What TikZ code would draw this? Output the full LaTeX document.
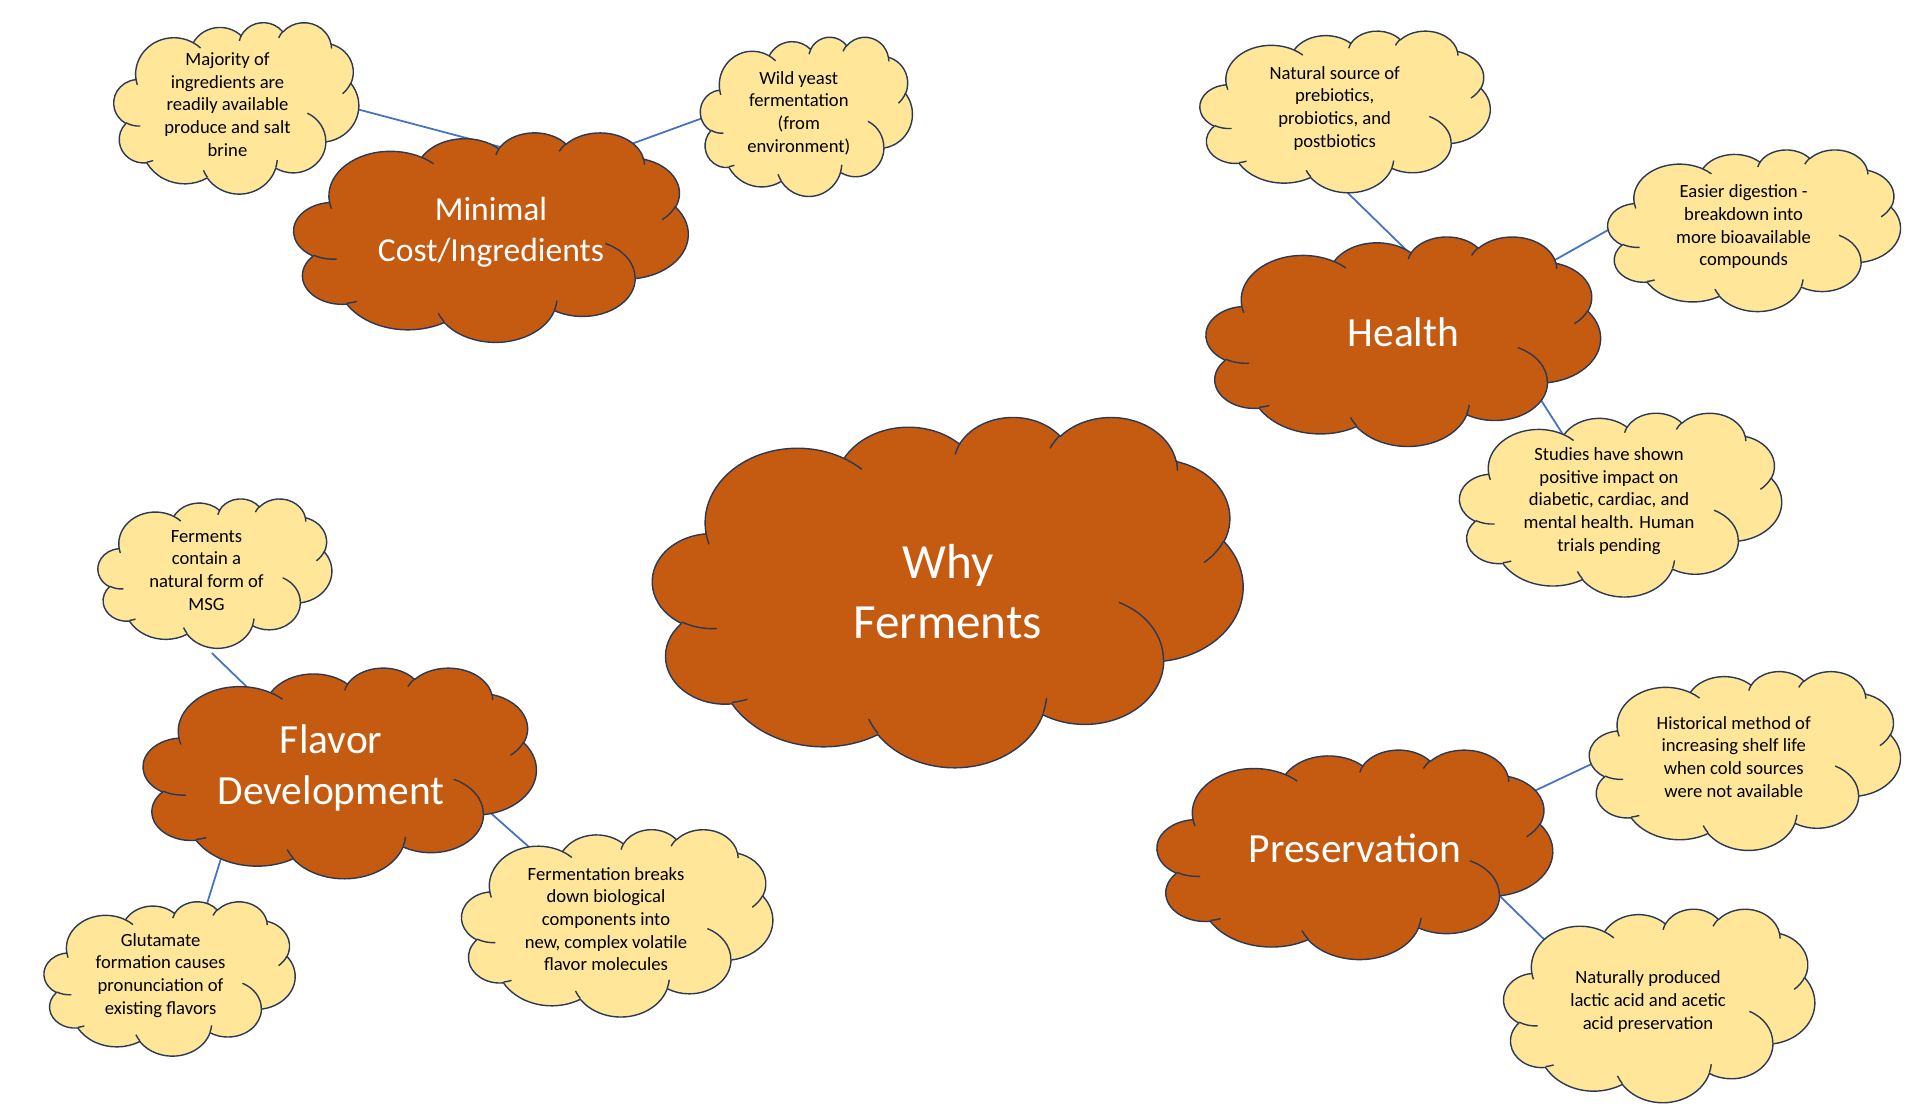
\documentclass[tikz,border=0pt]{standalone}
\usepackage{fontspec}
\setmainfont{Carlito}
\usepackage{tikz}

\definecolor{topicfill}{HTML}{C55A11}
\definecolor{detailfill}{HTML}{FFE699}
\definecolor{rimline}{HTML}{2B3954}
\definecolor{linkblue}{HTML}{4472C4}

\pgfdeclarelayer{background}
\pgfsetlayers{background,main}

% one arc of the cloud outline: name, x radius, y radius, start angle, sweep
\newcommand\rimarc[5]{%
  \pgfmathsetmacro\rimst{atan2(#2*sin(#4),#3*cos(#4))}%
  \pgfmathsetmacro\rimen{atan2(#2*sin(#4+#5),#3*cos(#4+#5))}%
  \pgfmathsetmacro\rimsw{mod(\rimen-\rimst+720,360)}%
  \expandafter\xdef\csname #1\endcsname{arc[start angle=\rimst, delta angle=\rimsw, x radius=#2, y radius=#3]}}

% outer puffs
\rimarc{rimA}{6.753}{9.190}{-190.487}{123.781}
\rimarc{rimB}{5.333}{7.267}{-144.102}{89.945}
\rimarc{rimC}{4.365}{5.945}{-145.808}{99.723}
\rimarc{rimD}{4.857}{6.595}{-130.986}{117.242}
\rimarc{rimE}{5.333}{7.273}{-78.709}{109.027}
\rimarc{rimF}{6.775}{9.220}{-46.267}{130.269}
\rimarc{rimG}{5.785}{7.867}{0.625}{114.033}
\rimarc{rimH}{6.752}{9.215}{22.452}{115.173}
\rimarc{rimI}{7.720}{10.543}{66.243}{75.711}
\rimarc{rimJ}{4.360}{5.918}{-274.942}{146.736}
\rimarc{rimK}{4.345}{5.945}{-246.829}{152.519}
% small inner strokes
\rimarc{dentA}{4.345}{5.945}{86.742}{26.430}
\rimarc{dentB}{4.360}{5.918}{73.611}{11.448}
\rimarc{dentC}{6.752}{9.215}{137.624}{14.081}
\rimarc{dentD}{6.752}{9.215}{6.453}{15.998}
\rimarc{dentE}{5.785}{7.867}{-70.292}{70.917}
\rimarc{dentF}{5.333}{7.273}{30.318}{27.752}
\rimarc{dentG}{4.857}{6.595}{-13.744}{14.859}
\rimarc{dentH}{4.857}{6.595}{-149.182}{18.195}
\rimarc{dentI}{4.365}{5.945}{-163.494}{17.686}
\rimarc{dentJ}{6.753}{9.190}{-66.707}{12.319}
\rimarc{dentK}{6.753}{9.190}{157.654}{11.858}

\tikzset{
  rim/.style={draw=rimline, line width=0.4pt, line join=round},
  link/.style={draw=linkblue, line width=0.5pt},
  topic/.style={font=\fontsize{11.8}{14.4}\selectfont, text=white, align=center, inner sep=0pt},
  detail/.style={font=\fontsize{5.3}{6.45}\selectfont, text=black, align=center, inner sep=0pt},
}

% options, kind (topic/detail), name, centre, width, height, text
\newcommand\cloudnode[7][]{%
  \begin{scope}[shift={#4}, xscale=#5/43.2, yscale=-#6/43.2]
    \filldraw[rim, fill=#2fill] (-17.7,-7.23) \rimA \rimB \rimC \rimD \rimE \rimF
      \rimG \rimH \rimI \rimJ \rimK -- cycle;
    \draw[rim] (-16.907,4.577) \dentA (-14.672,13.299) \dentB (-5.122,17.49) \dentC
      (7.227,13.151) \dentD (12.529,1.354) \dentE (20.198,-6.246) \dentF
      (16.724,-16.174) \dentG (7.478,-17.648) \dentH (0.541,-16.88) \dentI
      (-7.6,-16.408) \dentJ (-17.473,-5.811) \dentK;
  \end{scope}
  \node[#2, minimum width=#5cm, minimum height=#6cm, #1] (#3) at #4 {#7};
}

\begin{document}
\begin{tikzpicture}
  \useasboundingbox (0,0) rectangle (19.2,11.07);

  % Centre
  \cloudnode[font=\fontsize{14}{17}\selectfont]{topic}{why}{(9.478,5.156)}{5.902}{3.502}{Why\\Ferments}

  % Minimal cost
  \cloudnode[font=\fontsize{9.55}{11.7}\selectfont, yshift=0.05cm]{topic}{minimal}{(4.910,8.701)}{3.943}{2.094}{Minimal\\Cost/Ingredients}
  \cloudnode[xshift=-0.088cm, yshift=0.034cm]{detail}{majority}{(2.363,9.992)}{2.449}{1.714}{Majority of\\ingredients are\\readily available\\produce and salt\\brine}
  \cloudnode[xshift=-0.076cm, yshift=0.032cm]{detail}{wildyeast}{(8.064,9.907)}{2.119}{1.592}{Wild yeast\\fermentation\\(from\\environment)}

  % Health
  \cloudnode[yshift=0.085cm]{topic}{health}{(14.033,7.660)}{3.943}{2.094}{Health}
  \cloudnode[xshift=-0.104cm, yshift=0.032cm]{detail}{natural}{(13.451,9.956)}{2.902}{1.616}{Natural source of\\prebiotics,\\probiotics, and\\postbiotics}
  \cloudnode[xshift=-0.105cm, yshift=0.032cm]{detail}{easier}{(17.541,8.768)}{2.926}{1.616}{Easier digestion -\\breakdown into\\more bioavailable\\compounds}
  \cloudnode[xshift=-0.116cm, yshift=0.037cm]{detail}{studies}{(16.206,6.025)}{3.220}{1.837}{Studies have shown\\positive impact on\\diabetic, cardiac, and\\mental health. Human\\trials pending}

  % Flavor
  \cloudnode[xshift=-0.086cm, yshift=0.05cm]{topic}{flavor}{(3.398,3.343)}{3.930}{2.106}{Flavor\\Development}
  \cloudnode[xshift=-0.084cm, yshift=0.030cm]{detail}{msg}{(2.149,5.339)}{2.338}{1.494}{Ferments\\contain a\\natural form of\\MSG}
  \cloudnode[xshift=-0.090cm, yshift=0.031cm]{detail}{glutamate}{(1.696,1.286)}{2.510}{1.543}{Glutamate\\formation causes\\pronunciation of\\existing flavors}
  \cloudnode[xshift=-0.112cm, yshift=0.037cm]{detail}{breakdown}{(6.172,1.843)}{3.111}{1.873}{Fermentation breaks\\down biological\\components into\\new, complex volatile\\flavor molecules}

  % Preservation
  \cloudnode[yshift=0.06cm]{topic}{preservation}{(13.549,2.529)}{3.955}{2.094}{Preservation}
  \cloudnode[xshift=-0.112cm, yshift=0.036cm]{detail}{historical}{(17.449,3.466)}{3.110}{1.788}{Historical method of\\increasing shelf life\\when cold sources\\were not available}
  \cloudnode[xshift=-0.112cm, yshift=0.039cm]{detail}{lactic}{(16.592,1.017)}{3.110}{1.935}{Naturally produced\\lactic acid and acetic\\acid preservation}

  % Connectors, behind the clouds
  \begin{pgfonlayer}{background}
    \draw[link] ([shift={(1.208,-0.024)}]majority.center) -- ([shift={(0.09,0.85)}]minimal.center);
    \draw[link] ([shift={(1.35,0.86)}]minimal.center) -- ([shift={(-0.914,-0.032)}]wildyeast.center);
    \draw[link] ([shift={(0.064,-0.782)}]natural.center) -- ([shift={(0.07,0.785)}]health.center);
    \draw[link] ([shift={(1.48,0.705)}]health.center) -- ([shift={(-1.305,-0.002)}]easier.center);
    \draw[link] ([shift={(1.28,-0.525)}]health.center) -- ([shift={(-0.454,0.653)}]studies.center);
    \draw[link] ([shift={(0.054,-0.83)}]msg.center) -- ([shift={(-0.794,0.76)}]flavor.center);
    \draw[link] ([shift={(-1.084,-0.85)}]flavor.center) -- ([shift={(0.44,0.639)}]glutamate.center);
    \draw[link] ([shift={(1.546,-0.41)}]flavor.center) -- ([shift={(-0.728,0.683)}]breakdown.center);
    \draw[link] ([shift={(1.77,0.56)}]preservation.center) -- ([shift={(-1.388,-0.056)}]historical.center);
    \draw[link] ([shift={(1.45,-0.48)}]preservation.center) -- ([shift={(-0.988,0.571)}]lactic.center);
  \end{pgfonlayer}
\end{tikzpicture}
\end{document}
